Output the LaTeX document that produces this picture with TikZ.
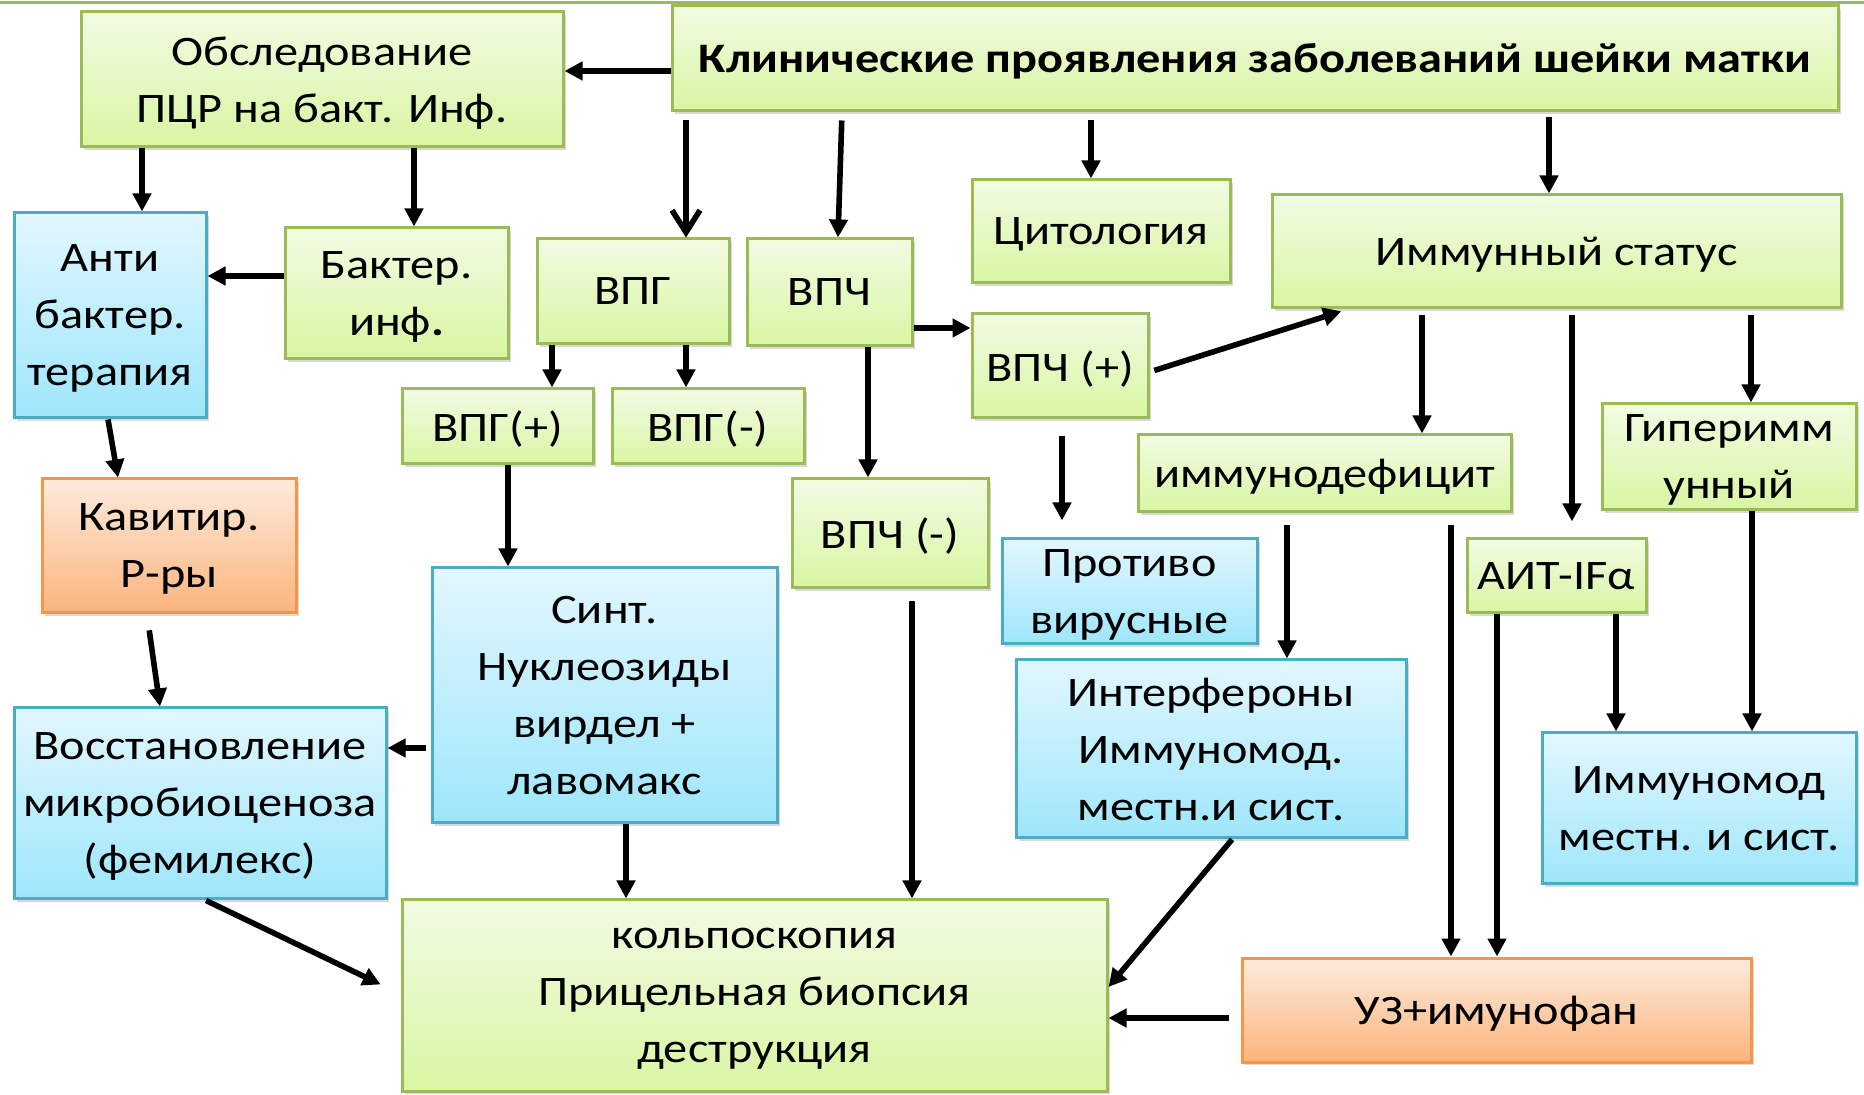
\documentclass[tikz,border=0pt]{standalone}
\usepackage{fontspec}
\setmainfont{Carlito}[FakeStretch=1.15]
\usepackage{tikz}
\usetikzlibrary{arrows.meta}
\usetikzlibrary{shadows}
\definecolor{gline}{HTML}{9BBB59}
\definecolor{gtop}{HTML}{F2FBE3}
\definecolor{gbot}{HTML}{D8F6A2}
\definecolor{bline}{HTML}{4BACC6}
\definecolor{btop}{HTML}{E2F7FE}
\definecolor{bbot}{HTML}{9EE6FB}
\definecolor{oline}{HTML}{F79646}
\definecolor{otop}{HTML}{FDEBDD}
\definecolor{obot}{HTML}{FBB47C}
\newcommand{\boxfont}{\fontsize{21pt}{28.5pt}\selectfont}
\tikzset{wh/.style 2 args={minimum width=#1*0.5pt, minimum height=#2*0.5pt}}
\tikzset{card/.style={rectangle, line width=1.5pt, inner sep=0pt, align=center, font=\boxfont,
  text depth=-2pt, drop shadow={shadow xshift=1.5pt, shadow yshift=-1.5pt, opacity=0.3}}}
\tikzset{gbox/.style={card, draw=gline, top color=gtop, bottom color=gbot}}
\tikzset{bbox/.style={card, draw=bline, top color=btop, bottom color=bbot}}
\tikzset{obox/.style={card, draw=oline, top color=otop, bottom color=obot}}
\tikzset{arr/.style={line width=2.8pt, -{Triangle[length=9pt, width=9pt]}}}
\tikzset{barb/.style={line width=2.8pt, -{Straight Barb[length=11pt, width=14pt]}}}

\begin{document}
\begin{tikzpicture}[x=0.5pt, y=-0.5pt]
		\useasboundingbox (0,0) rectangle (1864,1095);
		\draw[gline, line width=1.5pt] (0,3) -- (1864,3);

		\node[gbox, wh={1166}{105}] at (1255,58.5) (main) {\textbf{Клинические проявления заболеваний шейки матки}};
		\node[gbox, wh={482}{135}] at (322,79.5) (obs) {Обследование\\ПЦР на бакт. Инф.};
		\node[bbox, wh={192}{205}] at (110,315.5) (anti) {Анти\\бактер.\\терапия};
		\node[gbox, wh={223}{131}] at (396.5,293.5) (bakt) {Бактер.\\инф\textbf{.}};
		\node[gbox, wh={192}{105}] at (633,291.5) (vpg) {ВПГ};
		\node[gbox, wh={165}{107}] at (829.5,292.5) (vpch) {ВПЧ};
		\node[gbox, wh={258}{103}] at (1101,231.5) (cyto) {Цитология};
		\node[gbox, wh={569}{113}] at (1556.5,251.5) (imm) {Иммунный статус};
		\node[gbox, wh={191}{75}] at (497.5,426.5) (vpg-p) {ВПГ(+)};
		\node[gbox, wh={192}{75}] at (708,426.5) (vpg-m) {ВПГ(-)};
		\node[gbox, wh={176}{104}] at (1060,366) (vpch-p) {ВПЧ (+)};
		\node[obox, wh={254}{134}] at (169,546) (kav) {Кавитир.\\Р-ры};
		\node[gbox, wh={373}{77}] at (1324.5,473.5) (immdef) {иммунодефицит};
		\node[gbox, wh={254}{106}] at (1729,457) (hyper) {Гиперимм\\унный};
		\node[gbox, wh={196}{109}] at (890,533.5) (vpch-m) {ВПЧ (-)};
		\node[bbox, wh={255}{105}] at (1129.5,591.5) (antivir) {Противо\\вирусные};
		\node[gbox, wh={179}{74}] at (1556.5,576) (ait) {АИТ-IFα};
		\node[bbox, wh={345}{255}] at (604.5,695.5) (sint) {Синт.\\Нуклеозиды\\вирдел +\\лавомакс};
		\node[bbox, wh={390}{178}] at (1211,749) (interf) {Интерфероны\\Иммуномод.\\местн.и сист.};
		\node[bbox, wh={372}{191}] at (200,803.5) (vosst) {Восстановление\\микробиоценоза\\(фемилекс)};
		\node[bbox, wh={314}{151}] at (1699,808.5) (immmod) {Иммуномод\\местн. и сист.};
		\node[gbox, wh={705}{191}] at (754.5,995.5) (kolpo) {кольпоскопия\\Прицельная биопсия\\деструкция};
		\node[obox, wh={509}{104}] at (1496.5,1010) (uz) {УЗ+имунофан};

		\draw[arr] (main.west |- 0,71) -- (obs.east |- 0,71);
		\draw[arr] (obs.south -| 142,0) -- (anti.north -| 142,0);
		\draw[arr] (obs.south -| 414,0) -- (bakt.north -| 414,0);
		\draw[arr] (bakt.west |- 0,276) -- (anti.east |- 0,276);
		\draw[barb, shorten <=4pt] (main.south -| 686,0) -- (vpg.north -| 686,0);
		\draw[arr, shorten <=4pt] (main.south -| 842,0) -- (vpch.north -| 838,0);
		\draw[arr, shorten <=4pt] (main.south -| 1091,0) -- (cyto.north -| 1091,0);
		\draw[arr, shorten <=2.5pt] (main.south -| 1549,0) -- (imm.north -| 1549,0);
		\draw[arr] (vpg.south -| 552,0) -- (vpg-p.north -| 552,0);
		\draw[arr] (vpg.south -| 686,0) -- (vpg-m.north -| 686,0);
		\draw[arr] (vpch.east |- 0,328) -- (vpch-p.west |- 0,328);
		\draw[arr] (vpch.south -| 868,0) -- (vpch-m.north -| 868,0);
		\draw[arr, shorten <=2.5pt, shorten >=3pt] (vpch-p.east |- 0,372) -- (imm.south -| 1347,0);
		\draw[arr, shorten <=8.5pt, shorten >=8.5pt] (vpch-p.south -| 1062,0) -- (antivir.north -| 1062,0);
		\draw[arr, shorten <=3pt] (imm.south -| 1422,0) -- (immdef.north -| 1422,0);
		\draw[arr, shorten <=3pt, shorten >=8pt] (imm.south -| 1572,0) -- (ait.north -| 1572,0);
		\draw[arr, shorten <=3pt] (imm.south -| 1751,0) -- (hyper.north -| 1751,0);
		\draw[arr] (vpg-p.south -| 508,0) -- (sint.north -| 508,0);
		\draw[arr] (anti.south -| 108,0) -- (kav.north -| 118,0);
		\draw[arr, shorten <=8pt] (kav.south -| 147,0) -- (vosst.north -| 160,0);
		\draw[arr, shorten <=2.5pt] (sint.west |- 0,748) -- (vosst.east |- 0,748);
		\draw[arr] (sint.south -| 626,0) -- (kolpo.north -| 626,0);
		\draw[arr, shorten >=11pt] (vosst.south -| 206,0) -- (kolpo.west |- 0,994);
		\draw[arr, shorten <=6pt] (vpch-m.south -| 912,0) -- (kolpo.north -| 912,0);
		\draw[arr, shorten <=6pt] (immdef.south -| 1287,0) -- (interf.north -| 1287,0);
		\draw[arr, shorten <=6pt] (immdef.south -| 1451,0) -- (uz.north -| 1451,0);
		\draw[arr] (ait.south -| 1497,0) -- (uz.north -| 1497,0);
		\draw[arr] (ait.south -| 1616,0) -- (immmod.north -| 1616,0);
		\draw[arr] (hyper.south -| 1752,0) -- (immmod.north -| 1752,0);
		\draw[arr] (interf.south -| 1232,0) -- (kolpo.east |- 0,987);
		\draw[arr, shorten <=6pt] (uz.west |- 0,1018) -- (kolpo.east |- 0,1018);
\end{tikzpicture}
\end{document}
